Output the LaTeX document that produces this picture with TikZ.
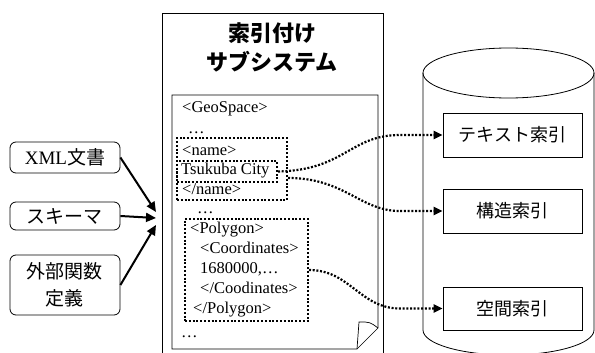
\documentclass[tikz,border=0pt]{standalone}
\usepackage{fontspec}
\setmainfont{Liberation Serif}
\newfontfamily\jpfont{Noto Sans CJK JP}
\usepackage{tikz}
\usetikzlibrary{positioning,calc}
\usetikzlibrary{arrows.meta}
\tikzset{
  src/.style={draw=black,rounded corners=6pt,line width=0.8pt,minimum width=110pt,
    align=center,font=\jpfont\fontsize{19}{27}\selectfont},
  idx/.style={draw=black,line width=0.8pt,minimum width=139pt,minimum height=44pt,
    font=\jpfont\fontsize{18}{22}\selectfont},
  tag/.style={anchor=base west,inner sep=0pt,font=\fontsize{16.5}{18}\selectfont},
  dotbox/.style={draw=black,line width=2pt,dash pattern=on 2pt off 1.8pt,inner sep=0pt},
  feed/.style={line width=2pt,-{Triangle[length=10pt,width=9pt]}},
  link/.style={line width=2.2pt,dash pattern=on 2pt off 1.7pt,-{Triangle[length=9pt,width=8pt]}},
}

\begin{document}
\begin{tikzpicture}[x=1pt,y=-1pt]
\clip (0,0) rectangle (595,353);
\fill[white] (0,0) rectangle (595,353);
\draw[line width=0.8pt] (162,13) rectangle (383,370);
\node[align=center,font=\jpfont\bfseries\fontsize{22}{29}\selectfont] (title) at (272,47.5) {索引付け\\サブシステム};
\draw[line width=0.7pt] (172,95) -- (378,95) -- (378,328) -- (357,349) -- (172,349) -- cycle;
\draw[line width=0.7pt] (378,328) .. controls (370,322) .. (359,322) -- (357,349);
\node[tag] (geo) at (182,113) {<GeoSpace>};
\node[tag] (dots1) at (188,133) {…};
\node[tag] (nm1) at (182,155) {<name>};
\node[tag] (city) at (181,175) {Tsukuba City};
\node[tag] (nm2) at (182,194) {</name>};
\node[tag] (dots2) at (197,213) {…};
\node[tag] (pg1) at (190,233) {<Polygon>};
\node[tag] (co1) at (200,253) {<Coordinates>};
\node[tag] (val) at (200,273) {1680000,…};
\node[tag] (co2) at (200,293) {</Coodinates>};
\node[tag] (pg2) at (193,313) {</Polygon>};
\node[tag] (dots3) at (181,337) {…};
\node[dotbox,minimum width=110pt,minimum height=62pt] (namebox) at (232,169) {};
\node[dotbox,minimum width=100pt,minimum height=21pt] (citybox) at (227,171.5) {};
\node[dotbox,minimum width=123pt,minimum height=102pt] (polybox) at (246.5,270) {};
\node[src,minimum height=31pt] (xml) at (65,157.5) {{\rmfamily XML}文書};
\node[src,minimum height=28pt] (schema) at (65,216) {スキーマ};
\node[src,minimum height=60pt] (extfn) at (65,285) {外部関数\\定義};
\coordinate (in1) at (156,212);
\coordinate (in2) at (156,218);
\coordinate (in3) at (156,225);
\draw[feed] (xml.east) -- (in1);
\draw[feed] (schema.east) -- (in2);
\draw[feed] (extfn.east) -- (in3);
\draw[line width=0.8pt,fill=white] (423,73) -- (423,330) arc[start angle=180,end angle=360,x radius=85.5pt,y radius=25pt] -- (594,73);
\draw[line width=0.8pt] (508.5,73) ellipse[x radius=85.5pt,y radius=25pt];
\node[idx] (txtidx) at (512.5,135) {テキスト索引};
\node[idx] (strudx) at (512.5,211) {構造索引};
\node[idx,minimum height=43pt] (spaidx) at (512.5,308.5) {空間索引};
\draw[link] (citybox.east) .. controls (345,170) and (350,135) .. (400,135) -- (txtidx.west);
\draw[link] ([yshift=-9pt]namebox.east) .. controls (345,178) and (360,211) .. (400,211) -- (strudx.west);
\draw[link] (polybox.east) .. controls (350,270) and (360,308.5) .. (400,308.5) -- (spaidx.west);
\end{tikzpicture}
\end{document}
